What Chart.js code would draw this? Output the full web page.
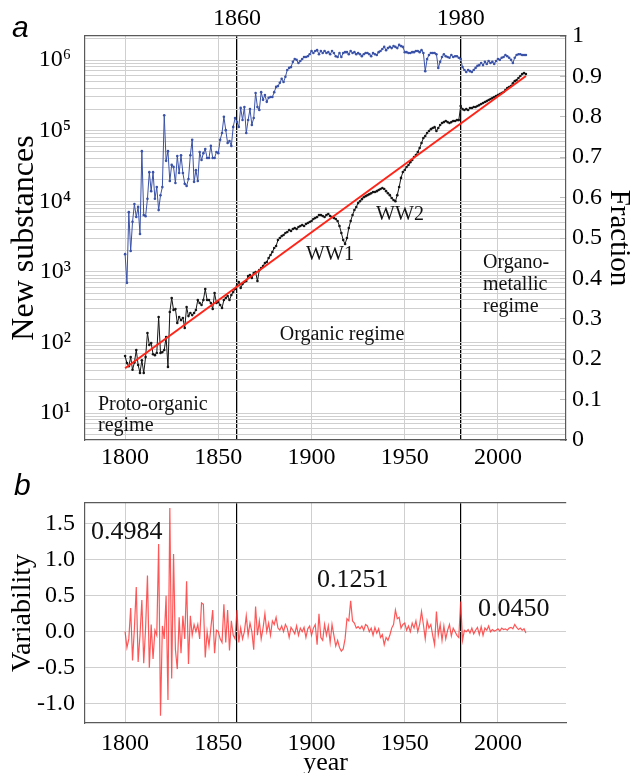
<!DOCTYPE html>
<html>
<head>
<meta charset="utf-8">
<script src="https://cdn.jsdelivr.net/npm/chart.js@4.4.1/dist/chart.umd.min.js"></script>
<style>
  html, body { margin: 0; padding: 0; background: #fff; }
  #wrap { position: relative; width: 633px; height: 773px; overflow: hidden; background: #fff; }
  canvas { position: absolute; left: 0; }
  #cTop { top: 0; }
  #cBot { top: 470px; }
</style>
</head>
<body>
<div id="wrap">
  <canvas id="cTop" width="633" height="470"></canvas>
  <canvas id="cBot" width="633" height="303"></canvas>
</div>
<script>
// ---------------- DATA ----------------
const firstYear = 1800;
const lastYear = 2015;
const years = Array.from({ length: lastYear - firstYear + 1 }, (_, i) => firstYear + i);

// New substances per year (left, log axis), black
const newSubstances = [
  64,51,46,62,41,52,78,48,37,56,
  37,62,136,92,98,68,66,71,229,71,
  73,78,119,45,270,425,288,298,189,229,
  208,222,160,318,236,261,244,261,288,399,
  362,339,399,570,399,399,362,298,500,362,
  374,339,307,399,425,454,399,469,517,570,
  629,717,589,672,717,740,872,901,816,961,
  993,740,1060,1130,1210,1330,1380,1570,1730,1910,
  2180,2320,2820,3010,3210,3320,3550,3660,3910,3780,
  4040,4180,4040,4310,4450,4600,4450,4750,4910,5070,
  5250,5600,5790,5980,6380,6380,6180,5980,6380,6590,
  6180,5980,5790,5600,5250,4450,3550,2820,2480,3010,
  4180,5250,6380,7500,8270,9430,10000,10700,11400,11800,
  12200,12600,13000,13500,13500,13900,14400,14900,15400,14900,
  13900,13000,12200,11100,10400,10000,12200,15900,21400,25900,
  27700,30600,32600,35800,38300,42300,45100,49800,56800,66800,
  78500,83800,92800,99000,105000,109000,112000,99000,109000,120000,
  128000,132000,137000,132000,128000,132000,137000,137000,141000,141000,
  223000,202000,196000,202000,196000,209000,209000,216000,216000,223000,
  230000,238000,246000,254000,262000,271000,280000,289000,299000,309000,
  319000,330000,340000,352000,376000,401000,414000,428000,470000,502000,
  521000,556000,593000,634000,655000,634000
];

// Fraction (right axis), blue
const fraction = [
  0.460,0.389,0.564,0.468,0.540,0.584,0.552,0.577,0.510,0.715,
  0.557,0.554,0.597,0.663,0.616,0.663,0.597,0.626,0.569,0.606,
  0.626,0.804,0.691,0.715,0.641,0.681,0.676,0.636,0.703,0.661,
  0.705,0.661,0.634,0.629,0.646,0.705,0.743,0.639,0.668,0.641,
  0.713,0.693,0.710,0.720,0.698,0.698,0.728,0.698,0.698,0.713,
  0.710,0.743,0.760,0.800,0.767,0.735,0.740,0.728,0.775,0.797,
  0.787,0.775,0.822,0.792,0.824,0.760,0.792,0.819,0.780,0.797,
  0.859,0.824,0.817,0.861,0.842,0.854,0.837,0.847,0.849,0.849,
  0.861,0.874,0.876,0.884,0.894,0.886,0.899,0.916,0.921,0.923,
  0.936,0.943,0.941,0.933,0.938,0.943,0.948,0.948,0.950,0.955,
  0.963,0.958,0.963,0.965,0.955,0.963,0.958,0.963,0.958,0.960,
  0.955,0.963,0.958,0.950,0.948,0.958,0.948,0.958,0.960,0.960,
  0.955,0.963,0.958,0.960,0.955,0.958,0.955,0.950,0.955,0.958,
  0.958,0.955,0.950,0.958,0.955,0.953,0.960,0.963,0.968,0.973,
  0.965,0.970,0.973,0.970,0.975,0.973,0.970,0.978,0.975,0.973,
  0.960,0.960,0.958,0.958,0.960,0.960,0.963,0.963,0.960,0.965,
  0.958,0.913,0.943,0.953,0.958,0.958,0.958,0.955,0.921,0.936,
  0.948,0.955,0.950,0.948,0.946,0.953,0.948,0.950,0.950,0.946,
  0.943,0.923,0.916,0.911,0.916,0.913,0.911,0.916,0.921,0.926,
  0.928,0.933,0.928,0.936,0.931,0.938,0.933,0.936,0.931,0.938,
  0.943,0.941,0.946,0.948,0.953,0.950,0.946,0.941,0.933,0.946,
  0.953,0.955,0.955,0.953,0.953,0.953
];

// Exponential fit (red), end points
const fitYears = [1800, 2015];
const fitValues = [43, 593000];

// Variability (panel b)
const variability = [
  0.00,-0.22,-0.10,0.33,-0.40,0.05,0.62,-0.42,-0.05,0.44,
  -0.44,0.05,0.78,-0.50,0.10,-0.38,0.02,-0.05,1.22,-1.17,
  0.08,-0.10,0.50,-0.95,1.72,-0.65,1.08,-0.25,-0.52,0.20,
  -0.30,0.22,-0.10,0.70,-0.45,0.22,-0.05,0.10,0.00,0.10,
  -0.10,0.40,0.38,-0.36,0.00,-0.20,0.05,0.30,-0.30,0.02,
  0.00,-0.10,-0.15,0.38,-0.15,0.30,-0.26,0.15,-0.05,-0.10,
  0.30,-0.15,0.05,-0.10,0.00,0.22,-0.05,0.12,0.00,-0.25,
  0.35,-0.05,0.15,-0.10,0.05,0.25,0.00,0.12,-0.05,0.15,
  0.10,0.20,0.05,0.02,0.08,0.00,0.10,0.05,-0.08,0.06,
  0.02,-0.03,0.08,-0.05,0.05,0.00,0.06,-0.08,0.04,0.08,
  -0.05,0.05,0.10,-0.18,0.25,-0.08,-0.12,0.10,-0.05,0.08,
  -0.15,0.10,-0.05,-0.20,-0.12,-0.22,-0.27,-0.24,-0.10,0.18,
  0.15,0.43,0.15,0.12,0.05,0.07,0.04,0.08,0.02,0.10,
  0.08,0.00,0.05,-0.05,0.06,-0.02,0.04,-0.08,-0.04,-0.18,
  -0.08,-0.12,-0.05,0.05,0.10,0.30,0.18,0.20,0.05,0.10,
  0.12,0.02,0.08,0.00,0.12,0.05,0.15,0.00,0.10,0.28,
  0.10,-0.10,0.15,0.05,0.10,-0.05,-0.18,0.28,-0.05,0.10,
  -0.12,0.08,-0.10,0.02,0.10,-0.06,0.05,0.00,-0.05,-0.08,
  0.42,-0.12,0.02,0.00,0.03,-0.02,0.05,-0.03,0.02,0.06,
  -0.04,0.07,-0.05,0.05,0.02,0.08,0.00,0.03,0.01,0.02,
  0.04,0.01,0.05,0.03,0.04,0.02,0.05,0.06,0.04,0.10,
  0.06,0.03,0.05,0.02,0.04,-0.02
];

// Ticks / labels
const yearTicks = [1800, 1850, 1900, 1950, 2000];
const regimeYears = [1860, 1980];
const logTickValues = [10, 100, 1000, 10000, 100000, 1000000];
const logTickLabels = ['10\u00B9', '10\u00B2', '10\u00B3', '10\u2074', '10\u2075', '10\u2076'];
const fracTickValues = [0, 0.1, 0.2, 0.3, 0.4, 0.5, 0.6, 0.7, 0.8, 0.9, 1];
const fracTickLabels = ['0', '0.1', '0.2', '0.3', '0.4', '0.5', '0.6', '0.7', '0.8', '0.9', '1'];
const varTickValues = [-1.0, -0.5, 0.0, 0.5, 1.0, 1.5];
const varTickLabels = ['-1.0', '-0.5', '0.0', '0.5', '1.0', '1.5'];
const regimeVariability = ['0.4984', '0.1251', '0.0450'];

// ---------------- STYLE ----------------
const SERIF = '"Liberation Serif", "DejaVu Serif", serif';
const GRID = '#cfcfcf';
const FRAME = '#5a5a5a';
const X_MIN = 1778.5, X_MAX = 2036.5;

const textPlugin = {
  id: 'texts',
  afterDraw(chart, args, opts) {
    const ctx = chart.ctx;
    ctx.save();
    for (const t of (opts.items || [])) {
      ctx.font = t.font;
      ctx.fillStyle = t.color || '#111';
      ctx.textAlign = t.align || 'left';
      ctx.textBaseline = 'middle';
      ctx.fillText(t.text, t.x, t.y);
    }
    ctx.restore();
  }
};

const tickFont = { family: SERIF, size: 24 };
const labelFont = `20px ${SERIF}`;
const yearLabel = v => { const k = yearTicks.indexOf(v); return k >= 0 ? String(yearTicks[k]) : ''; };

// ---------------- TOP CHART ----------------
const minorLogTicks = [];
for (let e = 0; e <= 6; e++) for (let m = 1; m <= 9; m++) minorLogTicks.push(m * Math.pow(10, e));

new Chart(document.getElementById('cTop'), {
  type: 'line',
  data: {
    datasets: [
      {
        label: 'fit',
        data: fitYears.map((x, i) => ({ x, y: fitValues[i] })),
        yAxisID: 'y', borderColor: '#ff2418', borderWidth: 2, pointRadius: 0, order: 0
      },
      {
        label: 'new substances',
        data: years.map((x, i) => ({ x, y: newSubstances[i] })),
        yAxisID: 'y', borderColor: '#151515', borderWidth: 1,
        pointRadius: 1.3, pointBackgroundColor: '#151515', pointBorderWidth: 0, order: 1
      },
      {
        label: 'fraction',
        data: years.map((x, i) => ({ x, y: fraction[i] })),
        yAxisID: 'y1', borderColor: '#3a52a8', borderWidth: 1,
        pointRadius: 1.3, pointBackgroundColor: '#3a52a8', pointBorderWidth: 0, order: 2
      }
    ]
  },
  options: {
    responsive: false, animation: false, devicePixelRatio: 1,
    layout: { padding: 0 },
    plugins: {
      legend: { display: false }, tooltip: { enabled: false },
      texts: {
        items: [
          { text: 'a', x: 12, y: 29, font: `italic 30px "Liberation Sans", sans-serif`, color: '#000' },
          { text: 'Proto-organic', x: 98, y: 405, font: labelFont },
          { text: 'regime', x: 98, y: 426, font: labelFont },
          { text: 'Organic regime', x: 342, y: 335, font: labelFont, align: 'center' },
          { text: 'Organo-', x: 483, y: 263, font: labelFont },
          { text: 'metallic', x: 483, y: 285, font: labelFont },
          { text: 'regime', x: 483, y: 307, font: labelFont },
          { text: 'WW1', x: 330, y: 255, font: labelFont, align: 'center' },
          { text: 'WW2', x: 400, y: 215, font: labelFont, align: 'center' }
        ]
      }
    },
    scales: {
      x: {
        type: 'linear', position: 'bottom', min: X_MIN, max: X_MAX,
        afterBuildTicks: s => { s.ticks = yearTicks.map(v => ({ value: v })); },
        afterFit: s => { s.height = 30; },
        grid: { color: GRID, drawTicks: false },
        border: { color: FRAME, width: 1.2 },
        ticks: { font: tickFont, color: '#000', padding: 3, maxRotation: 0, autoSkip: false, callback: yearLabel }
      },
      x2: {
        type: 'linear', position: 'top', min: X_MIN, max: X_MAX, z: 1,
        afterBuildTicks: s => { s.ticks = regimeYears.map(v => ({ value: v })); },
        afterFit: s => { s.height = 36; },
        grid: { color: '#000', lineWidth: 1.3, drawTicks: false },
        border: { color: FRAME, width: 1.2 },
        ticks: { font: tickFont, color: '#000', padding: 3, maxRotation: 0, autoSkip: false,
                 callback: v => { const k = regimeYears.indexOf(v); return k >= 0 ? String(regimeYears[k]) : ''; } }
      },
      y: {
        type: 'logarithmic', position: 'left', min: 4.15, max: 2.19e6,
        afterBuildTicks: s => { s.ticks = minorLogTicks.filter(v => v >= 4.15 && v <= 2.19e6).map(v => ({ value: v })); },
        afterFit: s => { s.width = 85; },
        grid: { color: GRID, drawTicks: false },
        border: { color: FRAME, width: 1.2 },
        ticks: {
          font: tickFont, color: '#000', padding: 14, autoSkip: false,
          callback: v => { const k = logTickValues.indexOf(v); return k >= 0 ? logTickLabels[k] : ''; }
        },
        title: { display: true, text: 'New substances', font: { family: SERIF, size: 32, lineHeight: 1 }, color: '#000', padding: { top: 9, bottom: 0 } }
      },
      y1: {
        type: 'linear', position: 'right', min: 0, max: 1,
        afterBuildTicks: s => { s.ticks = fracTickValues.map(v => ({ value: v })); },
        afterFit: s => { s.width = 67; },
        grid: { drawOnChartArea: false, drawTicks: true, tickLength: -6, tickColor: '#bdbdbd' },
        border: { color: FRAME, width: 1.2 },
        ticks: {
          font: tickFont, color: '#000', padding: 12, autoSkip: false,
          callback: v => { const k = fracTickValues.findIndex(t => Math.abs(t - v) < 1e-9); return k >= 0 ? fracTickLabels[k] : ''; }
        },
        title: { display: true, text: 'Fraction', font: { family: SERIF, size: 29, lineHeight: 1 }, color: '#000', padding: { top: 0, bottom: 0 } }
      }
    }
  },
  plugins: [textPlugin]
});

// ---------------- BOTTOM CHART ----------------
new Chart(document.getElementById('cBot'), {
  type: 'line',
  data: {
    datasets: [{
      label: 'variability',
      data: years.map((x, i) => ({ x, y: variability[i] })),
      borderColor: 'rgba(255,40,40,0.78)', borderWidth: 1.2, pointRadius: 0
    }]
  },
  options: {
    responsive: false, animation: false, devicePixelRatio: 1,
    layout: { padding: { right: 67 } },
    plugins: {
      legend: { display: false }, tooltip: { enabled: false },
      texts: {
        items: [
          { text: 'b', x: 14, y: 17, font: `italic 30px "Liberation Sans", sans-serif`, color: '#000' },
          { text: regimeVariability[0], x: 91, y: 62, font: `26px ${SERIF}` },
          { text: regimeVariability[1], x: 317, y: 110, font: `26px ${SERIF}` },
          { text: regimeVariability[2], x: 478, y: 139, font: `26px ${SERIF}` }
        ]
      }
    },
    scales: {
      x: {
        type: 'linear', position: 'bottom', min: X_MIN, max: X_MAX,
        afterBuildTicks: s => { s.ticks = yearTicks.map(v => ({ value: v })); },
        afterFit: s => { s.height = 50; },
        grid: { color: GRID, drawTicks: false },
        border: { color: FRAME, width: 1.2 },
        ticks: { font: tickFont, color: '#000', padding: 6, maxRotation: 0, autoSkip: false, callback: yearLabel },
        title: { display: true, text: 'year', font: { family: SERIF, size: 26, lineHeight: 1 }, color: '#000', padding: { top: 0, bottom: -3 } }
      },
      x2: {
        type: 'linear', position: 'top', min: X_MIN, max: X_MAX, z: 1,
        afterBuildTicks: s => { s.ticks = regimeYears.map(v => ({ value: v })); },
        afterFit: s => { s.height = 33; },
        grid: { color: '#000', lineWidth: 1.2, drawTicks: false },
        border: { color: FRAME, width: 1.2 },
        ticks: { display: false }
      },
      y: {
        type: 'linear', position: 'left', min: -1.27, max: 1.79,
        afterBuildTicks: s => { s.ticks = varTickValues.map(v => ({ value: v })); },
        afterFit: s => { s.width = 85; },
        grid: { color: GRID, drawTicks: false },
        border: { color: FRAME, width: 1.2 },
        ticks: {
          font: tickFont, color: '#000', padding: 10, autoSkip: false,
          callback: v => { const k = varTickValues.findIndex(t => Math.abs(t - v) < 1e-9); return k >= 0 ? varTickLabels[k] : ''; }
        },
        title: { display: true, text: 'Variability', font: { family: SERIF, size: 28, lineHeight: 1 }, color: '#000', padding: { top: 9, bottom: 0 } }
      }
    }
  },
  plugins: [textPlugin]
});
</script>
</body>
</html>
